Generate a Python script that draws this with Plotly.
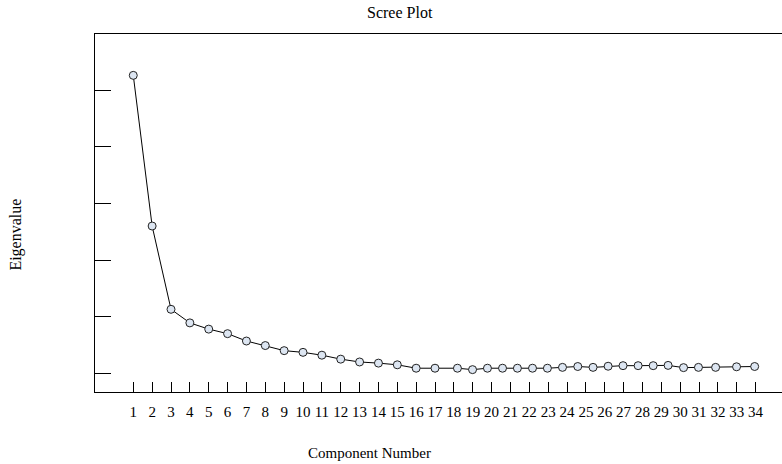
import plotly.graph_objects as go

# Data
component_x = [1, 2, 3, 4, 5, 6, 7, 8, 9, 10, 11, 12, 13, 14, 15, 16, 17,
               18.19, 18.99, 19.78, 20.58, 21.37, 22.17, 22.96, 23.76, 24.57,
               25.38, 26.18, 26.97, 27.77, 28.57, 29.36, 30.18, 30.97, 31.88,
               32.99, 33.95]
eigenvalues = [5.26, 2.60, 1.13, 0.89, 0.78, 0.70, 0.57, 0.49, 0.40, 0.37,
               0.32, 0.25, 0.20, 0.18, 0.15, 0.09, 0.09,
               0.09, 0.065, 0.09, 0.09, 0.09, 0.09, 0.09, 0.105, 0.12,
               0.105, 0.125, 0.135, 0.135, 0.135, 0.14, 0.10, 0.105, 0.105,
               0.115, 0.12]
tick_values = list(range(1, 35))
tick_labels = [str(v) for v in tick_values]
y_ticks = [0, 1, 2, 3, 4, 5]

FONT = "Liberation Serif"

fig = go.Figure()
fig.add_trace(go.Scatter(
    x=component_x, y=eigenvalues, mode="lines+markers",
    line=dict(color="black", width=1),
    marker=dict(symbol="circle", size=8, color="#dde6f2",
                line=dict(color="#222222", width=1)),
    showlegend=False, cliponaxis=False, hoverinfo="skip",
))

fig.update_layout(
    width=782, height=464,
    margin=dict(l=95, r=0, t=34, b=72),
    paper_bgcolor="white", plot_bgcolor="white",
    font=dict(family=FONT, size=16, color="black"),
    xaxis=dict(range=[-1.03, 35.40], tickmode="array", tickvals=tick_values,
               ticktext=tick_labels, ticks="inside", ticklen=10,
               tickcolor="black", tickwidth=1, showgrid=False, zeroline=False,
               showline=True, linecolor="black", linewidth=1, mirror=True,
               ticklabelstandoff=6, tickfont=dict(family=FONT, size=15)),
    yaxis=dict(range=[-0.33, 5.99], tickmode="array", tickvals=y_ticks,
               ticks="inside", ticklen=16, tickcolor="black", tickwidth=1,
               showticklabels=False, showgrid=False, zeroline=False,
               showline=True, linecolor="black", linewidth=1, mirror=False),
    annotations=[
        dict(text="Scree Plot", xref="paper", yref="paper", x=0.444, y=1.0587,
             xanchor="center", yanchor="middle", showarrow=False,
             font=dict(family=FONT, size=16)),
        dict(text="Component Number", xref="paper", yref="paper", x=0.40,
             y=-0.170, xanchor="center", yanchor="middle", showarrow=False,
             font=dict(family=FONT, size=15)),
        dict(text="Eigenvalue", xref="paper", yref="paper", x=-0.1143,
             y=0.441, xanchor="center", yanchor="middle", showarrow=False,
             textangle=-90, font=dict(family=FONT, size=16)),
    ],
)

fig.write_html(
    "out.html",
    config={"displayModeBar": False},
    post_script="document.body.style.margin='0';document.body.style.overflow='hidden';",
)
